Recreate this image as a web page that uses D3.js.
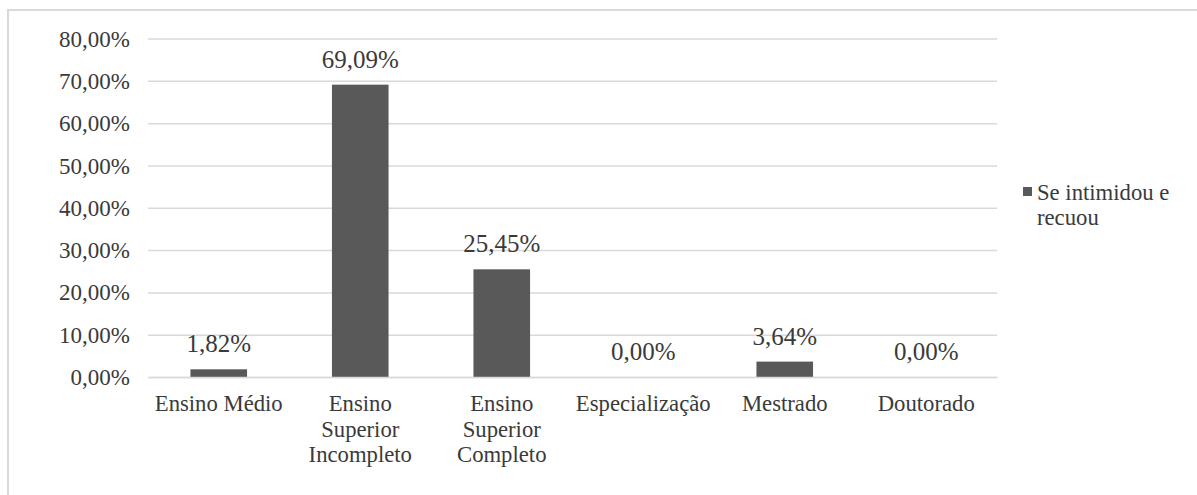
<!DOCTYPE html>
<html><head><meta charset="utf-8">
<script src="https://cdn.jsdelivr.net/npm/d3@7"></script>
<style>body{margin:0;background:#fff}
svg text{font-family:"Liberation Serif" !important}</style>
</head><body>
<svg id="c" width="1197" height="495"></svg>
<script>
const categories = ["Ensino Médio","Ensino Superior Incompleto","Ensino Superior Completo","Especialização","Mestrado","Doutorado"];
const values = [1.82, 69.09, 25.45, 0.00, 3.64, 0.00];
const yTicks = [0,10,20,30,40,50,60,70,80];
const seriesName = "Se intimidou e recuou";
const legendLines = ["Se intimidou e","recuou"];

const svg = d3.select("#c");
const fmt = v => v.toFixed(2).replace(".", ",") + "%";
const FONT = "Liberation Serif";
const textCol = "#3a3a3a";

// outer border
svg.append("rect").attr("x",8).attr("y",10).attr("width",1200).attr("height",500)
  .attr("fill","none").attr("stroke","#d9d9d9").attr("stroke-width",2);

const x = d3.scaleBand().domain(categories).range([148,997]).paddingInner(0.6).paddingOuter(0.3);
const y = d3.scaleLinear().domain([0,80]).range([377,38.5]);

// gridlines + y ticks
const yAxis = d3.axisLeft(y).tickValues(yTicks).tickSize(-(997-148)).tickFormat(fmt);
const ga = svg.append("g").attr("transform","translate(148,0)").call(yAxis);
ga.attr("font-family",FONT).attr("font-size",23);
ga.select(".domain").remove();
ga.selectAll(".tick line").attr("stroke","#d9d9d9").attr("stroke-width",1.5);
ga.selectAll(".tick text").attr("x",-18).attr("dy","0.33em").attr("fill",textCol).attr("font-family",FONT);

// bars
svg.selectAll("rect.bar").data(values).enter().append("rect").attr("class","bar")
  .attr("x",(d,i)=>x(categories[i])).attr("width",x.bandwidth())
  .attr("y",d=>y(d)).attr("height",d=>y(0)-y(d)).attr("fill","#595959");

// data labels
svg.selectAll("text.lbl").data(values).enter().append("text").attr("class","lbl")
  .attr("x",(d,i)=>x(categories[i])+x.bandwidth()/2).attr("y",d=>y(d)-17)
  .attr("text-anchor","middle").attr("font-family",FONT).attr("font-size",25)
  .attr("fill",textCol).text(d=>fmt(d));

// x axis line
const xa = svg.append("g").attr("transform","translate(0,377)").call(d3.axisBottom(x).tickSize(0).tickFormat(""));
xa.select(".domain").attr("stroke","#d9d9d9").attr("stroke-width",1.5);

// x labels with wrapping
const LBL = 22.7;
const measure = svg.append("text").attr("font-family",FONT).attr("font-size",LBL);
function wrap(label, maxW){
  const words = label.split(" "); const lines=[]; let cur="";
  words.forEach(w=>{
    const t = cur ? cur+" "+w : w;
    measure.text(t);
    if (measure.node().getComputedTextLength() > maxW && cur){ lines.push(cur); cur=w; } else cur=t;
  });
  if(cur) lines.push(cur);
  return lines;
}
categories.forEach(c=>{
  const lines = wrap(c, 138);
  const t = svg.append("text").attr("text-anchor","middle").attr("font-family",FONT)
    .attr("font-size",LBL).attr("fill",textCol);
  lines.forEach((l,j)=>t.append("tspan").attr("x",x(c)+x.bandwidth()/2).attr("y",411+j*25.5).text(l));
});
measure.remove();

// legend
svg.append("rect").attr("x",1023).attr("y",187).attr("width",9).attr("height",9).attr("fill","#595959");
const lg = svg.append("text").attr("font-family",FONT).attr("font-size",LBL).attr("fill",textCol);
legendLines.forEach((l,j)=>lg.append("tspan").attr("x",1037).attr("y",200+j*25).text(l));
</script>
</body></html>
